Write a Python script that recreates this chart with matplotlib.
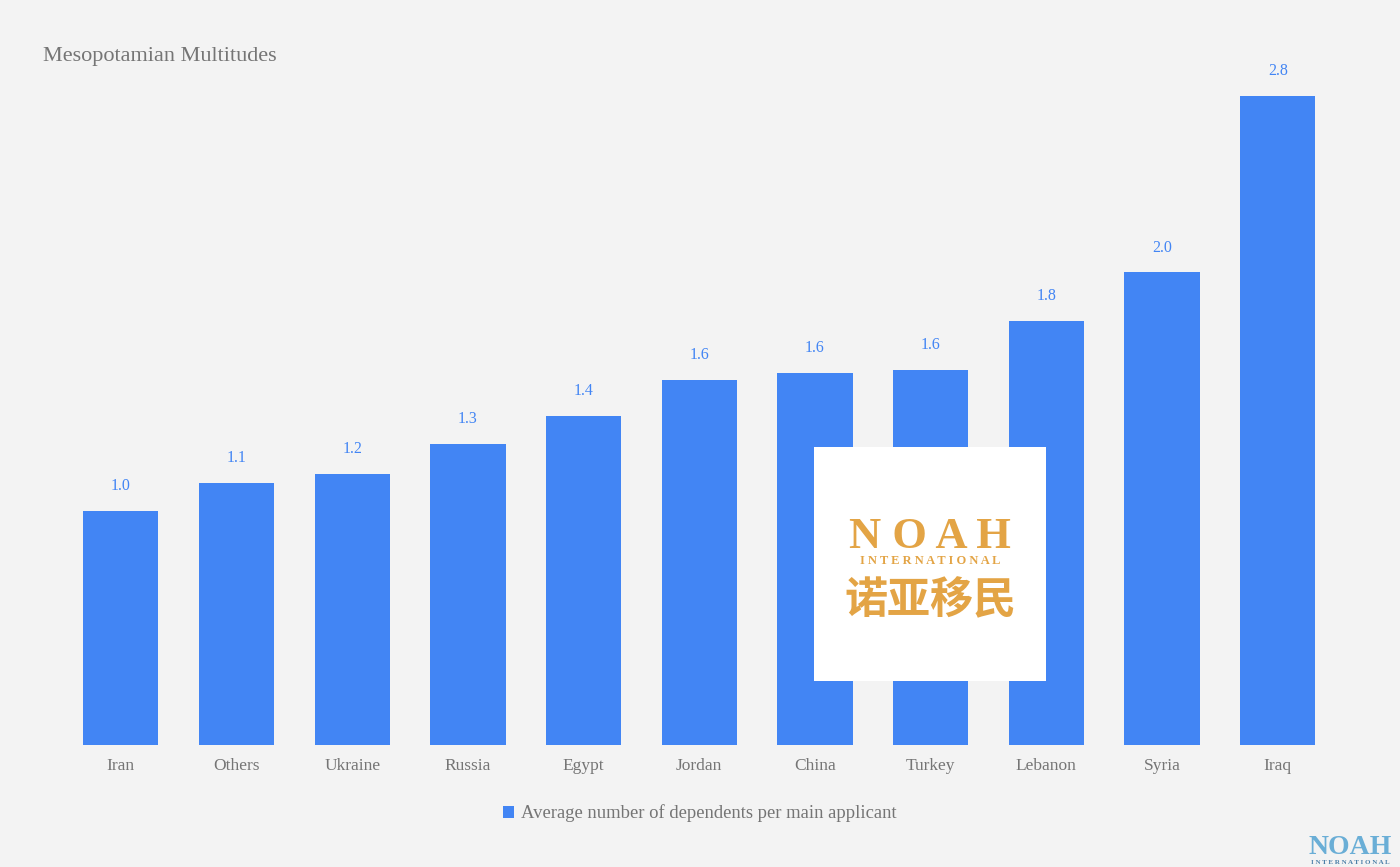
import numpy as np
import matplotlib.pyplot as plt
from matplotlib.patches import Rectangle

# data
countries = ['Iran', 'Others', 'Ukraine', 'Russia', 'Egypt', 'Jordan',
             'China', 'Turkey', 'Lebanon', 'Syria', 'Iraq']
dependents = [1.01, 1.13, 1.17, 1.30, 1.42, 1.575, 1.605, 1.62, 1.83, 2.04, 2.80]

bg = '#f3f3f3'
blue = '#4285f4'
grey = '#757575'
gold = '#e3a445'
serif = ['Liberation Serif', 'DejaVu Serif']

fig = plt.figure(figsize=(14, 8.67), dpi=100, facecolor=bg)
ax = fig.add_axes([0.045, 0.1407, 0.909, 0.802])
ax.set_facecolor(bg)

x = np.arange(len(countries))
bars = ax.bar(x, dependents, width=0.65, color=blue,
              label='Average number of dependents per main applicant')

# value labels above bars
for xi, v in zip(x, dependents):
    ax.annotate(f'{v:.1f}', (xi, v), xytext=(0, 12), textcoords='offset points',
                ha='center', va='bottom', color=blue, fontsize=11.5, family=serif)

ax.set_xlim(-0.5, len(countries) - 0.5)
ax.set_ylim(0, 3.0)
ax.set_xticks(x)
ax.set_xticklabels(countries, fontsize=12.5, color=grey, family=serif)
ax.tick_params(axis='x', length=0, pad=9)
ax.set_yticks([])
for s in ax.spines.values():
    s.set_visible(False)

fig.text(0.031, 0.935, 'Mesopotamian Multitudes', fontsize=16, color=grey,
         family=serif, ha='left', va='center')

leg = fig.legend(loc='center', bbox_to_anchor=(0.5, 0.062), frameon=False,
                 prop={'family': serif, 'size': 13.4}, handlelength=0.6,
                 handleheight=0.6, handletextpad=0.4)
for t in leg.get_texts():
    t.set_color(grey)

# watermark box
fig.patches.append(Rectangle((814 / 1400, 1 - 681 / 867), 232 / 1400, 234 / 867,
                             transform=fig.transFigure, facecolor='white',
                             edgecolor='none', zorder=5))
fig.text(930 / 1400, 1 - 537 / 867, 'N O A H', fontsize=32, color=gold, weight='bold',
         family=serif, ha='center', va='center', zorder=6)
fig.text(930 / 1400, 1 - 561 / 867, 'I N T E R N A T I O N A L', fontsize=9,
         color=gold, weight='bold', family=serif, ha='center', va='center', zorder=6)
fig.text(930 / 1400, 1 - 600 / 867, '诺亚移民', fontsize=31, color=gold,
         weight='bold', family=['Noto Sans CJK SC', 'DejaVu Sans'],
         ha='center', va='center', zorder=6)

# corner logo
fig.text(1350 / 1400, 1 - 848 / 867, 'NOAH', fontsize=20, color='#6aaed6',
         weight='bold', family=serif, ha='center', va='center')
fig.text(1350 / 1400, 1 - 863 / 867, 'I N T E R N A T I O N A L', fontsize=5,
         color='#4a7fa8', weight='bold', family=serif, ha='center', va='center')

fig.savefig('out.png', dpi=100, facecolor=bg)
